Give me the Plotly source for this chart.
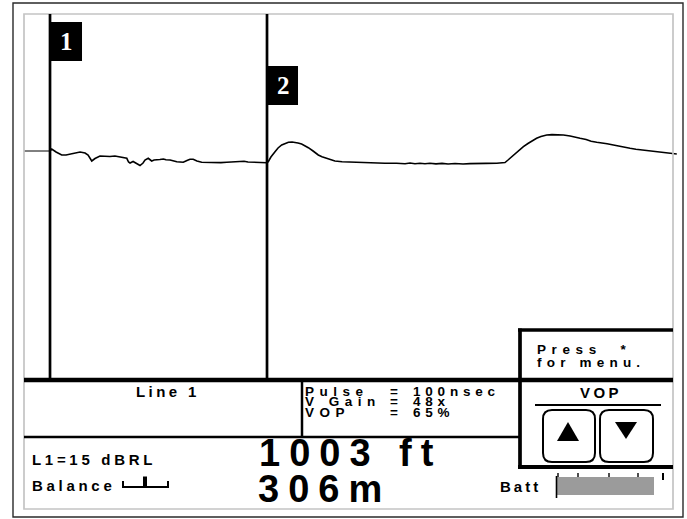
import plotly.graph_objects as go

W, H = 687, 519

# ---------------- data ----------------
lead_ft = [-120, 0]
lead_amp = [0, 0]

distance_ft = [0, 8, 28, 54, 74, 92, 116, 139, 162, 176, 193, 208, 231, 254, 277, 300, 324, 342, 355,
               363, 370, 384, 398, 416, 430, 439, 454, 470, 481, 495, 508, 524, 536, 555, 569, 586,
               601, 616, 633, 647, 662, 679, 701, 721, 744, 770, 790, 817, 837, 860, 878, 897, 915,
               940, 961, 980, 1002, 1009, 1021, 1040, 1054, 1071, 1086, 1102, 1119, 1132, 1146, 1163,
               1179, 1194, 1216, 1240, 1257, 1279, 1294, 1317, 1350, 1387, 1447, 1502, 1548, 1602,
               1641, 1664, 1687, 1710, 1733, 1756, 1784, 1812, 1840, 1872, 1909, 1941, 1978, 2015,
               2065, 2089, 2103, 2117, 2134, 2154, 2172, 2188, 2209, 2232, 2249, 2269, 2296, 2320,
               2348, 2373, 2404, 2427, 2450, 2478, 2501, 2527, 2551, 2575, 2604, 2630, 2658, 2681,
               2708, 2732, 2758, 2783, 2810, 2835, 2857, 2875, 2897]
amplitude = [0, 2, -1, -4, -4, -3, -2, -1, -2, -4, -10, -7.5, -5, -5.5, -5.5, -5, -6, -6.5, -7.3,
             -11, -12, -10.5, -12, -14.5, -12, -9, -7.3, -10, -9, -9, -8.5, -8, -8.8, -9, -10, -10.7,
             -11, -11.3, -9.5, -8.2, -8.3, -10, -11.3, -11.5, -11, -11.3, -11.6, -11.3, -11, -10.5,
             -10, -10.3, -11, -11.3, -11.5, -11.7, -11.7, -10.7, -6, -0.7, 3, 6, 7.7, 8.7, 9, 8.7,
             8, 7, 5.3, 3.3, 0, -4, -5.8, -7.3, -9, -10, -10.8, -11.2, -11.7, -11.8, -12.2, -12.3,
             -12.8, -12, -12.8, -12.2, -12.8, -12.3, -12.9, -12.4, -13, -12.5, -13, -12.6, -12.8,
             -12.4, -12.3, -12, -11.5, -9, -5.7, -1.5, 1.5, 4.3, 7.5, 10.7, 12.7, 14.5, 16, 16.4,
             16.2, 16, 15, 13.6, 12.7, 11.5, 9.7, 8.7, 8.2, 7.2, 6, 4.7, 3.7, 2.7, 1.8, 1.2, 0.3,
             0, -0.6, -1.3, -1.6, -2.2, -3]

cursor_ft = [0, 1003]
cursor_labels = ["1", "2"]

line_name = "Line 1"
settings_names = ["Pulse", "V Gain", "VOP"]
settings_values = ["100nsec", "48x", "65%"]
menu_lines = ["Press  *", "for menu."]
vop_label = "VOP"
rl_text = "L1=15 dBRL"
balance_text = "Balance"
distance_ft_text = "1003 ft"
distance_m_text = "306m"
batt_text = "Batt"


# ---------------- helpers ----------------
def X(px):
    return px / W


def Y(py):
    return 1 - py / H


shapes = []
annotations = []


def pline(x0, y0, x1, y1, w, color="black"):
    shapes.append(dict(type="line", xref="paper", yref="paper",
                       x0=X(x0), y0=Y(y0), x1=X(x1), y1=Y(y1),
                       line=dict(color=color, width=w)))


def prect(x0, y0, x1, y1, lw, lc, fill):
    shapes.append(dict(type="rect", xref="paper", yref="paper",
                       x0=X(x0), y0=Y(y0), x1=X(x1), y1=Y(y1),
                       line=dict(color=lc, width=lw), fillcolor=fill))


def ppath(points, fill, lw=0, lc="black", closed=True):
    d = "M " + " L ".join(f"{X(a)},{Y(b)}" for a, b in points)
    if closed:
        d += " Z"
    shapes.append(dict(type="path", xref="paper", yref="paper", path=d,
                       fillcolor=fill, line=dict(color=lc, width=lw)))


def rrect(x0, y0, x1, y1, r, lw):
    l, rt, t, b = X(x0), X(x1), Y(y0), Y(y1)
    rx, ry = r / W, r / H
    d = (f"M {l+rx},{t} L {rt-rx},{t} Q {rt},{t} {rt},{t-ry} L {rt},{b+ry} "
         f"Q {rt},{b} {rt-rx},{b} L {l+rx},{b} Q {l},{b} {l},{b+ry} "
         f"L {l},{t-ry} Q {l},{t} {l+rx},{t} Z")
    shapes.append(dict(type="path", xref="paper", yref="paper", path=d,
                       fillcolor="rgba(0,0,0,0)", line=dict(color="black", width=lw)))


FONT = "Liberation Sans, Arial, Helvetica, sans-serif"


def ptext(txt, x, y, size, ls, anchor="left", color="black", family=FONT, bold=True):
    annotations.append(dict(
        xref="paper", yref="paper", x=X(x), y=Y(y),
        text=f'<span style="letter-spacing:{ls}px">{txt}</span>',
        showarrow=False, xanchor=anchor, yanchor="middle",
        borderpad=0,
        font=dict(family=family, size=size, color=color,
                  weight="bold" if bold else "normal")))


# ---------------- frame ----------------
prect(13, 3, 683, 517, 1.4, "#2a2a2a", "rgba(0,0,0,0)")
prect(24, 14, 673, 509, 1.7, "#c4c4c4", "rgba(0,0,0,0)")

# main separator
pline(24, 380, 673, 380, 4.5)
# lower info panel
pline(24, 437, 520, 437, 2.5)
pline(302, 380, 302, 437, 2.5)
# right panel
pline(520, 328.5, 520, 469, 3.7)
pline(518, 330, 673, 330, 3.7)
pline(518, 467, 673, 467, 4)
# VOP underline
pline(535, 405, 661, 405, 2)
# buttons
rrect(543, 410, 595, 462, 9, 2)
rrect(600, 410, 653, 462, 9, 2)
ppath([(557, 441), (579, 441), (568, 422)], "black")
ppath([(615, 422), (637, 422), (626, 439)], "black")

# battery
prect(556, 477, 654, 495, 0, "rgba(0,0,0,0)", "#9b9b9b")
pline(556.5, 476, 556.5, 498, 1.6)
for tx in [558, 578, 609, 638]:
    pline(tx, 473, tx, 477, 1.4)
pline(663, 473, 663, 480, 2)

# balance symbol
ppath([(123, 481), (123, 487), (168, 487), (168, 481)], "rgba(0,0,0,0)", lw=2, closed=False)
prect(143, 476.5, 147, 487, 0, "rgba(0,0,0,0)", "black")

# ---------------- cursors ----------------
label_boxes = [(22, 61, 32), (66, 105, 31)]
for ft, lab, (yt, yb, bw) in zip(cursor_ft, cursor_labels, label_boxes):
    shapes.append(dict(type="line", xref="x", yref="paper", x0=ft, x1=ft,
                       y0=Y(380), y1=Y(14), line=dict(color="black", width=2.7)))
    shapes.append(dict(type="rect", xref="x", xsizemode="pixel", xanchor=ft,
                       x0=0, x1=bw, yref="paper", y0=Y(yb), y1=Y(yt),
                       fillcolor="black", line=dict(width=0)))
    annotations.append(dict(xref="x", x=ft, xshift=bw / 2 + 0.5, yref="paper",
                            y=Y((yt + yb) / 2 + 0.5), text=lab, showarrow=False,
                            xanchor="center", yanchor="middle",
                            font=dict(family="Liberation Serif, Times New Roman, serif",
                                      size=25, color="white", weight="bold")))

# ---------------- texts ----------------
ptext(line_name, 168, 391, 15, 3.4, anchor="center")
for i, (nm, val) in enumerate(zip(settings_names, settings_values)):
    yy = [391.5, 401.5, 412][i]
    ptext(nm, 304, yy, 13.5, 5.5)
    ptext("=", 389, yy, 13.5, 5)
    ptext(val, 412, yy, 13.5, 4.8)
ptext(menu_lines[0], 536, 349, 13.5, 5.6)
ptext(menu_lines[1], 536, 362, 13.5, 5.2)
ptext(vop_label, 601, 392, 15, 3.4, anchor="center")
ptext(rl_text, 31, 459, 15, 3.7)
ptext(balance_text, 31, 485, 15, 3.7)
ptext(distance_ft_text, 258, 453, 38, 9)
ptext(distance_m_text, 257, 489, 38, 9)
ptext(batt_text, 499, 486, 15, 3)

# ---------------- figure ----------------
fig = go.Figure()
fig.add_trace(go.Scatter(x=lead_ft, y=lead_amp, mode="lines",
                         line=dict(color="black", width=1), hoverinfo="skip"))
fig.add_trace(go.Scatter(x=distance_ft, y=amplitude, mode="lines",
                         line=dict(color="black", width=1.6)))

fig.update_layout(
    width=W, height=H,
    margin=dict(l=0, r=0, t=0, b=0, pad=0),
    paper_bgcolor="white", plot_bgcolor="white",
    showlegend=False,
    xaxis=dict(domain=[X(24), X(677)], range=[-120.2, 2898], visible=False, fixedrange=True),
    yaxis=dict(domain=[Y(380), Y(14)], range=[-229, 137], visible=False, fixedrange=True),
    shapes=shapes,
    annotations=annotations,
)

fig.write_html("out.html", config={"displayModeBar": False},
               post_script="document.body.style.margin='0px';document.body.style.overflow='hidden';")
